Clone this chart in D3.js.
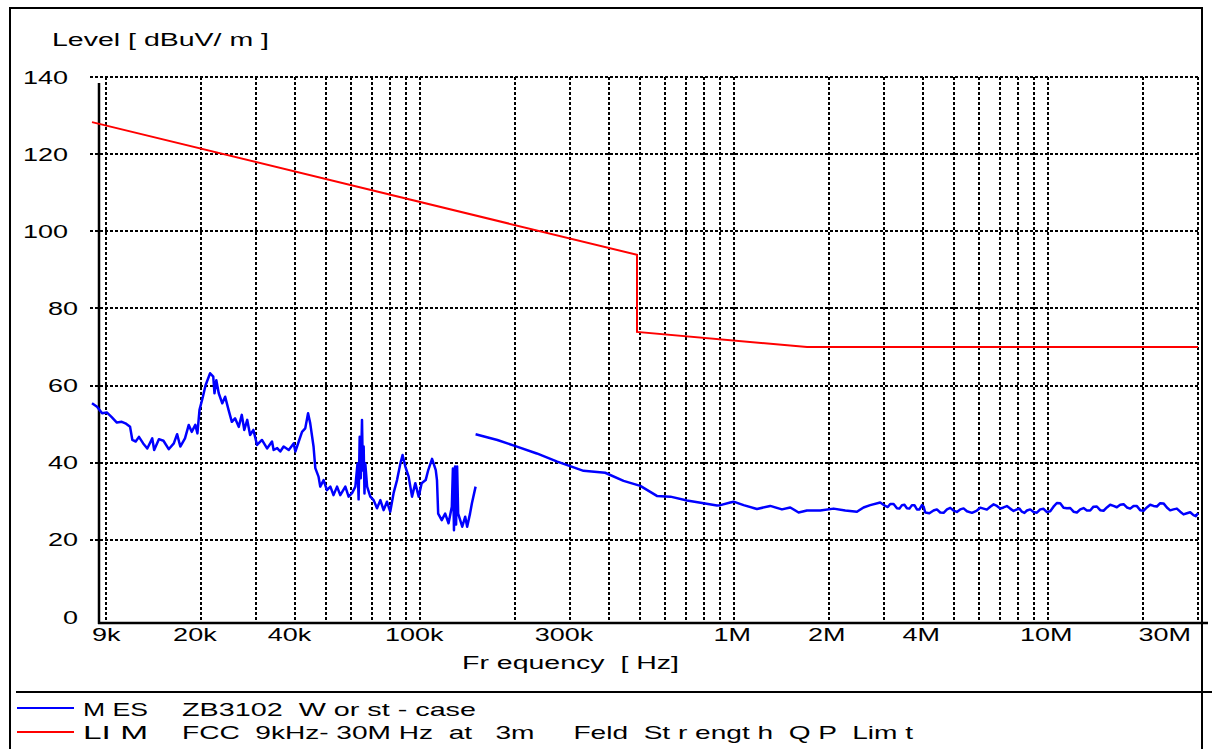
<!DOCTYPE html>
<html><head><meta charset="utf-8">
<script src="https://cdn.jsdelivr.net/npm/d3@7"></script>
<style>
html,body{margin:0;padding:0;background:#fff;}
svg text{font-family:"Liberation Sans",Arial,sans-serif;fill:#000;white-space:pre;}
</style></head>
<body>
<script>
// ---------- data ----------
const yTickValues = [0,20,40,60,80,100,120,140];
const yGridValues = [20,40,60,80,100,120,140];
const xTickValues = [9e3,2e4,4e4,1e5,3e5,1e6,2e6,4e6,1e7,3e7];
const xTickLabels = ["9k","20k","40k","100k","300k","1M","2M","4M","10M","30M"];
const xGridValues = [1e4,2e4,3e4,4e4,5e4,6e4,7e4,8e4,9e4,
  1e5,2e5,3e5,4e5,5e5,6e5,7e5,8e5,9e5,
  1e6,2e6,3e6,4e6,5e6,6e6,7e6,8e6,9e6,1e7,2e7,3e7];

// limit line (kHz, dBuV/m)
const limitFreq = [9, 490, 490, 1705, 30000];
const limitLevel = [128.3, 93.9, 73.9, 70.0, 70.0];

// measured trace, part 1 (kHz, dBuV/m)
const mes1Freq = [9.0,9.34,9.69,10.05,10.4,10.8,11.2,11.5,11.9,12.1,12.4,12.7,13.1,13.5,14.0,14.2,14.7,15.2,15.8,16.4,16.8,17.2,17.8,18.3,18.7,19.2,19.5,19.8,20.3,20.7,21.4,21.9,22.1,22.4,22.8,23.4,23.9,24.5,25.1,25.7,26.4,27.0,27.5,28.1,28.7,29.4,30.2,31.3,32.5,33.7,34.1,35.0,35.8,36.7,38.1,39.5,40.0,41.0,42.0,43.0,43.9,44.6,45.7,46.3,47.4,48.0,49.2,50.4,51.7,52.9,54.3,55.6,57.7,59.1,60.6,62.1,63.1,63.6,64.1,64.6,65.2,65.6,66.0,66.4,66.8,67.7,69.3,71.0,72.8,74.6,76.4,78.3,80.2,82.2,84.3,86.4,87.8,89.6,91.8,94.1,96.4,98.8,101,104,106,109,112,113,114,117,120,123,126,127,128,129,130,131,132,136,139,141,144,146,150];
const mes1Level = [55.4,54.5,52.8,53.0,51.8,50.4,50.6,50.2,49.3,45.9,45.5,46.7,45.0,43.7,46.3,43.3,46.1,45.7,43.5,45.0,47.4,44.2,46.3,49.8,48.0,49.8,47.6,53.7,57.1,60.1,63.2,62.3,58.0,61.4,58.0,55.4,57.1,53.7,50.6,51.5,49.3,52.4,48.5,51.1,47.2,48.5,44.6,45.9,43.7,45.5,43.3,43.8,42.9,44.2,43.3,45.0,42.9,45.5,48.0,48.9,52.8,50.2,44.2,38.6,36.4,33.8,35.5,32.9,33.8,31.6,33.8,31.6,33.8,31.2,32.1,33.8,39.8,30.5,46.7,36.0,51.1,38.0,44.2,32.0,39.8,33.8,31.2,30.3,28.2,30.3,27.7,29.9,27.3,32.1,35.5,39.8,42.0,39.0,36.4,31.2,34.7,31.2,34.7,35.5,38.1,41.0,38.1,35.5,26.8,25.1,26.8,24.3,28.6,38.5,22.5,39.0,24.0,39.0,26.8,23.4,26.0,23.4,26.8,29.5,33.8];

// measured trace, part 2 (kHz, dBuV/m)
const mes2Freq = [150,176,201,235,273,300,331,388,444,502,567,626,707,799,881,903,971,995,1071,1181,1302,1419,1508,1603,1704,1879,2072,2257,2459,2581,2711,2917,3026,3083,3140,3218,3298,3359,3421,3484,3548,3614,3681,3749,3818,3889,3961,4009,4058,4183,4312,4420,4530,4643,4759,4875,4994,5118,5245,5376,5510,5716,5929,6074,6223,6378,6537,6700,6866,7034,7206,7385,7568,7757,7950,8097,8247,8400,8556,8766,8980,9202,9430,9665,9906,10149,10397,10655,10920,11192,11470,11751,12040,12341,12650,12961,13280,13606,13940,14286,14640,15006,15380,15755,16140,16545,16960,17380,17810,18250,18700,19160,19630,20120,20620,21130,21650,22190,22740,23300,23880,24460,25060,25690,26330,26980,27650,28330,29020,29500,30000];
const mes2Level = [47.4,45.9,44.3,42.4,40.3,39.1,37.9,37.4,35.3,34.0,31.4,31.2,30.2,29.5,28.9,29.0,29.7,29.9,29.0,28.0,28.8,27.9,28.4,27.1,27.6,27.6,28.1,27.6,27.3,28.4,29.0,29.7,28.8,28.5,29.3,29.3,28.2,28.1,29.0,29.1,28.2,28.1,29.0,29.0,27.9,27.9,29.0,28.6,27.1,26.9,27.6,27.9,27.1,27.0,27.9,28.3,27.6,27.25,27.9,28.15,27.4,27.0,27.6,28.35,28.1,27.85,28.6,29.2,28.8,28.1,28.4,28.75,28.1,27.5,27.9,28.1,27.3,27.0,27.6,27.9,27.2,27.05,27.9,28.05,27.2,27.4,28.6,29.55,29.5,28.35,28.2,28.25,27.3,27.1,27.9,28.25,27.6,27.6,28.6,28.65,27.7,27.55,28.4,29.1,28.8,28.45,29.1,29.25,28.4,28.1,28.8,28.75,27.7,27.55,28.4,29.1,28.8,28.65,29.5,29.45,28.4,27.65,27.9,28.1,27.3,26.6,26.9,27.15,26.4,26.15,26.9];

const titleText = "Level [ dBuV/ m ]";
const xTitleText = "Fr equency  [ Hz]";
const legendCodes = ["M ES", "LI M"];
const legendDescr = ["ZB3102  W or st - case", "FCC  9kHz- 30M Hz  at   3m     Feld  St r engt h  Q P  Lim t"];
const legendColors = ["#0000ff", "#ff0000"];

// ---------- drawing ----------
const W = 1212, H = 749;
const svg = d3.select("body").append("svg").attr("width", W).attr("height", H);
svg.append("rect").attr("width", W).attr("height", H).attr("fill", "#fff");

const x = d3.scaleLog().domain([9e3, 3e7]).range([92, 1198]);
const y = d3.scaleLinear().domain([0, 140]).range([617, 77]);

function txt(str, px, py, size, anchor, len) {
  const t = svg.append("text").text(str).attr("font-size", size);
  if (len) {
    t.attr("x", px).attr("y", py).attr("textLength", len).attr("lengthAdjust", "spacingAndGlyphs");
  } else {
    t.attr("transform", `translate(${px},${py}) scale(1.5,1)`).attr("text-anchor", anchor || "start");
  }
  return t;
}

// grid
const grid = svg.append("g").attr("stroke", "#000").attr("stroke-width", 2)
  .attr("stroke-dasharray", "3,2").attr("shape-rendering", "crispEdges");
grid.selectAll("line.h").data(yGridValues).join("line").attr("class", "h")
  .attr("x1", 90).attr("x2", 1199).attr("y1", d => Math.round(y(d))).attr("y2", d => Math.round(y(d)));
grid.selectAll("line.v").data(xGridValues).join("line").attr("class", "v")
  .attr("x1", d => Math.round(x(d))).attr("x2", d => Math.round(x(d))).attr("y1", 77).attr("y2", 621);

// axes (solid)
svg.append("line").attr("x1", 99).attr("x2", 99).attr("y1", 83).attr("y2", 624).attr("stroke", "#000").attr("stroke-width", 2.5);
svg.append("line").attr("x1", 98).attr("x2", 1208).attr("y1", 623).attr("y2", 623).attr("stroke", "#000").attr("stroke-width", 2.5);

// frame
const frame = svg.append("g").attr("stroke", "#000").attr("stroke-width", 2).attr("fill", "none");
frame.append("path").attr("d", `M10,${H}V8H1202V${H}`);
frame.append("line").attr("x1", 16).attr("x2", W).attr("y1", 692).attr("y2", 692);

// y tick labels
yTickValues.forEach(v => {
  const s = String(v);
  txt(s, s.length >= 3 ? 68 : 78, y(v) + 6.5, 18, "end");
});
// x tick labels
xTickValues.forEach((v, i) => {
  const s = xTickLabels[i];
  if (i === 0) txt(s, 92, 641, 18, "start");
  else if (i === xTickValues.length - 1) txt(s, 1191, 641, 18, "end");
  else txt(s, x(v) - (s.endsWith("k") ? 6 : 2), 641, 18, "middle");
});

// titles
txt(titleText, 52, 46, 19, "start");
txt(xTitleText, 462, 669, 19, "start");

// lines
const line = d3.line().x(d => x(d[0] * 1000)).y(d => y(d[1]));
svg.append("path").datum(d3.zip(limitFreq, limitLevel)).attr("d", line)
  .attr("fill", "none").attr("stroke", "#ff0000").attr("stroke-width", 2);
svg.append("path").datum(d3.zip(mes1Freq, mes1Level)).attr("d", line)
  .attr("fill", "none").attr("stroke", "#0000ff").attr("stroke-width", 2.5).attr("stroke-linejoin", "round");
svg.append("path").datum(d3.zip(mes2Freq, mes2Level)).attr("d", line)
  .attr("fill", "none").attr("stroke", "#0000ff").attr("stroke-width", 2.5).attr("stroke-linejoin", "round");

// legend
const legY = [708, 732];
const legBase = [716, 739];
const legEnd = [476, 913];
legendCodes.forEach((c, i) => {
  svg.append("line").attr("x1", 17).attr("x2", 74).attr("y1", legY[i]).attr("y2", legY[i])
    .attr("stroke", legendColors[i]).attr("stroke-width", 2);
  txt(c, 83, legBase[i], 19, null, 65);
  txt(legendDescr[i], 182, legBase[i], 19, null, legEnd[i] - 182);
});
</script>
</body></html>
